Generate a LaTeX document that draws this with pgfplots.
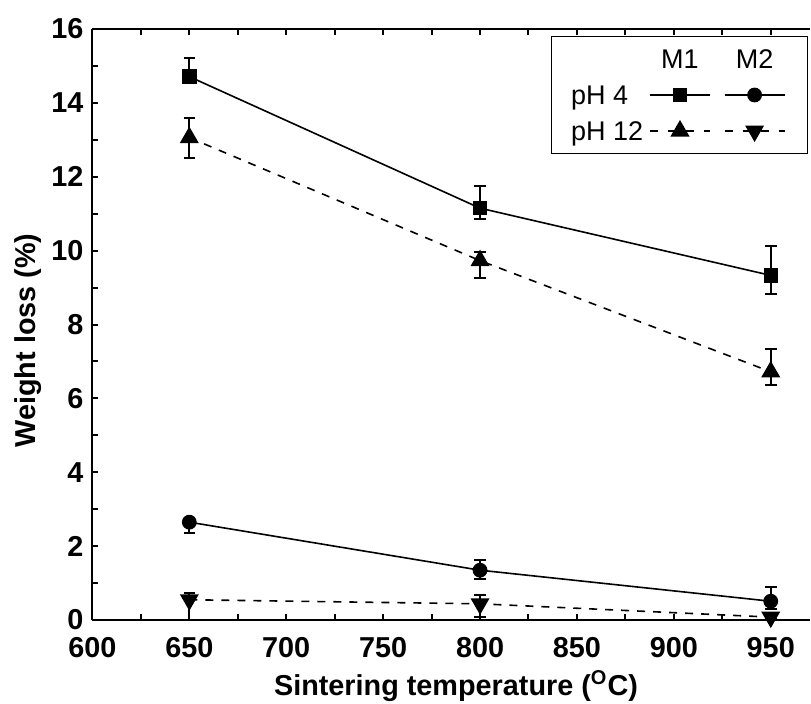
\documentclass[border=0pt]{standalone}
\usepackage{pgfplots}
\usepackage{pgfplotstable}
\pgfplotsset{compat=1.18}
\usepackage{fontspec}
\setmainfont{Liberation Sans}

\pgfplotstableread{
x y ep em
650 14.71 0.50 0.10
800 11.15 0.60 0.30
950 9.33 0.80 0.50
}\mone

\pgfplotstableread{
x y ep em
650 13.06 0.52 0.56
800 9.73 0.22 0.47
950 6.72 0.62 0.37
}\monetw

\pgfplotstableread{
x y ep em
650 2.65 0.10 0.29
800 1.35 0.27 0.23
950 0.51 0.39 0.20
}\mtwo

\pgfplotstableread{
x y ep em
650 0.55 0.19 0.55
800 0.44 0.25 0.35
950 0.08 0.05 0.05
}\mtwotw

\begin{document}
\begin{tikzpicture}
\begin{axis}[
  scale only axis,
  width=358.5pt, height=295.5pt,
  xmin=600, xmax=970, ymin=0, ymax=16,
  axis x line*=box, axis y line*=left,
  axis line style={line width=1pt, black},
  xtick={600,650,...,950}, minor x tick num=1,
  ytick={0,2,...,16}, minor y tick num=1,
  tick align=inside,
  major tick length=3pt, minor tick length=3pt,
  tick style={line width=1pt, black},
  /pgf/number format/assume math mode=true,
  /pgf/number format/1000 sep={},
  tick label style={font=\fontsize{14.4}{16}\selectfont\bfseries},
  xticklabel style={yshift=-5pt},
  yticklabel style={xshift=-1pt},
  xlabel={Sintering temperature (\textsuperscript{O}C)},
  ylabel={Weight loss (\%)},
  label style={font=\fontsize{14.4}{16}\selectfont\bfseries},
  xlabel style={at={(axis description cs:0.507,0)}, anchor=center, yshift=-33pt},
  ylabel style={at={(axis description cs:-0.0898,0.473)}, anchor=center},
  legend columns=3,
  legend cell align=left,
  legend image code/.code={\draw[mark repeat=2,mark phase=2,#1] plot coordinates {(0pt,0pt) (15pt,0pt) (30pt,0pt)};},
  legend style={at={(rel axis cs:1,1)}, anchor=north east, xshift=-0.8pt, yshift=-3.5pt,
    draw=black, line width=0.5pt, inner xsep=10pt, inner ysep=6.4pt,
    font=\fontsize{13.5}{15}\selectfont,
    nodes={inner sep=0pt, text height=9.7pt, text depth=0pt},
    row sep=8.3pt,
    /tikz/every even column/.append style={column sep=3pt}},
]
\addplot[black, line width=0.8pt, mark=square*, mark size=3.2pt, forget plot,
  error bars/.cd, y dir=both, y explicit, error bar style={line width=1pt, solid},
  error mark options={line width=1pt, mark size=2.9pt, solid, rotate=90}]
  table[x=x, y=y, y error plus=ep, y error minus=em]{\mone};
\addplot[black, line width=0.8pt, dash pattern=on 4pt off 4pt, mark=triangle*, mark size=4.7pt, mark options={solid}, forget plot,
  error bars/.cd, y dir=both, y explicit, error bar style={line width=1pt, solid},
  error mark options={line width=1pt, mark size=2.9pt, solid, rotate=90}]
  table[x=x, y=y, y error plus=ep, y error minus=em]{\monetw};
\addplot[black, line width=0.8pt, mark=*, mark size=3.3pt, forget plot,
  error bars/.cd, y dir=both, y explicit, error bar style={line width=1pt, solid},
  error mark options={line width=1pt, mark size=2.9pt, solid, rotate=90}]
  table[x=x, y=y, y error plus=ep, y error minus=em]{\mtwo};
\addplot[black, line width=0.8pt, dash pattern=on 4pt off 4pt, mark=triangle*, mark size=4.7pt, mark options={solid, rotate=180}, forget plot,
  error bars/.cd, y dir=both, y explicit, error bar style={line width=1pt, solid},
  error mark options={line width=1pt, mark size=2.9pt, solid, rotate=90}]
  table[x=x, y=y, y error plus=ep, y error minus=em]{\mtwotw};

% legend: header row
\addlegendimage{empty legend}\addlegendentry{}
\addlegendimage{legend image code/.code={\node[anchor=center] at (15pt,0pt) {M1};}}\addlegendentry{\hspace*{3.5pt}}
\addlegendimage{legend image code/.code={\node[anchor=center] at (15pt,0pt) {M2};}}\addlegendentry{}
% pH 4
\addlegendimage{empty legend}\addlegendentry{pH 4}
\addlegendimage{black, line width=0.8pt, mark=square*, mark size=3.2pt}\addlegendentry{}
\addlegendimage{black, line width=0.8pt, mark=*, mark size=3.3pt}\addlegendentry{}
% pH 12
\addlegendimage{empty legend}\addlegendentry{pH 12}
\addlegendimage{black, line width=0.8pt, dash pattern=on 4pt off 5pt, mark=triangle*, mark size=4.7pt, mark options={solid}}\addlegendentry{}
\addlegendimage{black, line width=0.8pt, dash pattern=on 4pt off 5pt, mark=triangle*, mark size=4.7pt, mark options={solid, rotate=180}}\addlegendentry{}
\end{axis}
\pgfresetboundingbox
\path[use as bounding box] ([shift={(-46.2pt,-41.5pt)}]current axis.south west) rectangle ([shift={(0.75pt,14.5pt)}]current axis.north east);
\end{tikzpicture}
\end{document}
